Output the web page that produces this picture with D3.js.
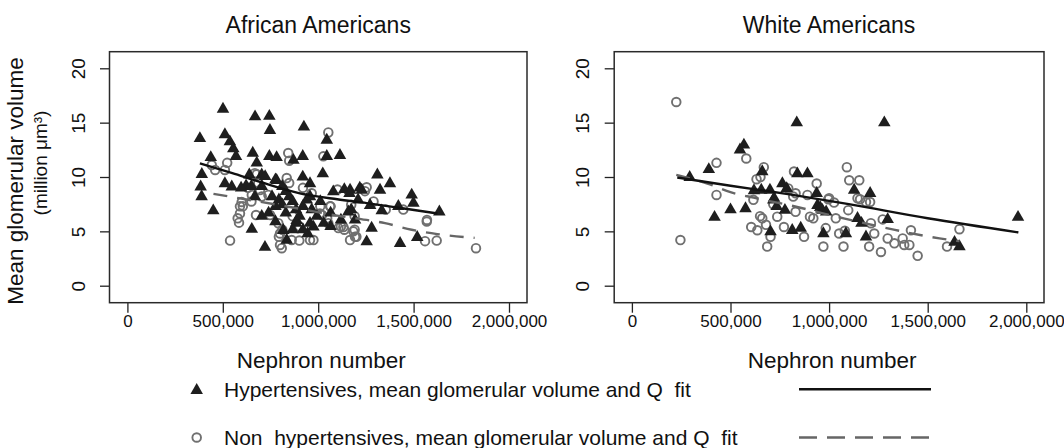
<!DOCTYPE html>
<html><head><meta charset="utf-8">
<script src="https://cdn.jsdelivr.net/npm/d3@7"></script>
<style>
body{margin:0;background:#fff;}
svg{display:block;font-family:"Liberation Sans",Arial,Helvetica,sans-serif;}
</style></head>
<body><svg id="c" width="1064" height="448"></svg>
<script>
// ---------- DATA (x = nephron number in thousands, y = mean glomerular volume, million µm³) ----------
const panelTitles = ["African Americans", "White Americans"];
const xTickValues = [0, 500, 1000, 1500, 2000];
const yTickValues = [0, 5, 10, 15, 20];
const xAxisTitle = "Nephron number";
const yAxisTitle1 = "Mean glomerular volume";
const yAxisTitle2 = "(million μm³)";
const legendLabels = ["Hypertensives, mean glomerular volume and Q  fit",
                      "Non  hypertensives, mean glomerular volume and Q  fit"];

const aaHyper = [
 [501,16.25],[669,15.55],[744,15.6],[747,14.3],[925,14.6],
 [380,13.55],[511,13.9],[537,13.25],[555,12.6],[569,11.9],[657,12.2],[678,11.3],[744,11.9],[782,11.8],[870,11.55],[919,11.9],[437,11.8],
 [1045,13.4],[1045,11.9],[1114,12.0],[1024,10.3],[1310,10.2],[1376,9.4],[957,9.4],[919,10.0],
 [390,10.25],[639,10.2],[704,10.2],[782,9.7],
 [384,9.1],[389,8.2],[511,9.4],[547,9.1],[450,6.9],[652,5.2],[721,3.55],[622,9.2],[817,5.1],[835,4.2],[887,6.0],[945,4.8],
 [1167,8.8],[1228,8.8],[1324,8.8],[1490,8.35],[1499,7.6],[1420,7.3],[1333,6.9],[1272,7.4],[1635,6.8],[1158,6.8],[1193,6.05],
 [1280,5.3],[1254,4.05],[1429,3.9],[1519,4.45],[975,5.4],[940,7.9],[1079,8.65],
 [776,9.75],[812,9.14],[830,8.68],[848,8.2],[794,7.9],[812,7.45],[866,7.75],[884,7.0],[830,6.7],[902,6.4],[920,7.3],[957,8.2],
 [966,7.0],[993,6.4],[957,5.75],[884,5.75],[866,5.15],[920,5.15],[1029,5.75],[1065,5.45],[1011,7.75],[1065,6.7],
 [1137,8.85],[1164,8.5],[1218,9.0],[1209,7.9],[1173,7.0],[1119,6.05],[758,8.2],[776,7.3],[740,6.7],[704,9.14],[722,10.05],
 [650,9.14],[596,9.0],[668,8.2],[704,6.4],[776,5.9]
];
const aaNonHyper = [
 [843,12.2],[442,11.1],[511,10.65],[678,10.25],[835,9.9],[1053,14.1],[1027,11.9],[848,11.5],
 [599,7.7],[590,7.3],[590,6.65],[585,5.8],[674,6.5],[538,4.15],[652,8.35],[695,8.8],[739,8.35],[748,6.5],[791,5.75],
 [800,4.8],[800,3.75],[809,3.45],[861,4.2],[901,4.15],
 [1254,9.05],[1446,7.0],[1569,5.9],[1560,4.1],[1621,4.15],[1827,3.45],[1062,7.3],[1106,5.3],[1132,5.4],[1167,4.2],
 [1184,5.0],[1193,4.5],[1009,6.65],[1053,5.75],[975,4.2],
 [848,9.45],[920,9.0],[966,8.5],[1011,7.3],[1020,6.5],[1047,6.2],[1101,8.85],[1065,7.3],[1173,7.45],[1245,8.7],[1191,6.4],
 [1119,5.45],[1137,5.15],[1191,5.15],[1200,4.5],[866,6.4],[902,5.45],[812,5.15],[794,4.5],[632,9.0],[704,8.2],[650,7.75],
 [605,7.3],[578,6.2],[460,10.65],[523,11.3],[668,10.35],[686,9.45],[1354,7.0],[1570,6.05],[1290,7.75],[957,4.2]
];
const waHyper = [
 [836,15.0],[1280,15.0],[568,12.95],[548,12.5],[390,10.7],[293,9.97],[419,6.3],[500,7.0],[576,7.1],[619,8.75],[661,10.5],
 [656,8.8],[700,8.8],[721,8.05],[703,4.97],[763,9.4],[785,8.95],[717,7.9],[734,7.3],[776,6.95],[839,10.3],[890,10.3],
 [813,5.1],[856,5.3],[937,8.5],[941,7.4],[966,6.95],[971,4.8],[1085,4.8],[1127,8.8],[1208,8.5],[1144,6.2],[1164,5.75],
 [1187,4.5],[1297,6.1],[1636,4.0],[1661,3.6],[1958,6.3],[955,7.2],[985,6.8]
];
const waNonHyper = [
 [225,16.9],[246,4.2],[429,11.3],[429,8.35],[580,11.7],[605,5.4],[636,5.1],[661,6.2],[632,9.8],[652,10.0],[669,10.9],
 [686,3.6],[703,4.5],[737,6.35],[771,5.4],[822,10.5],[830,8.5],[830,6.8],[873,4.5],[890,8.35],[903,6.35],[937,9.4],
 [920,6.2],[971,3.6],[983,5.3],[1000,8.05],[1025,7.65],[1034,6.2],[1051,4.8],[1073,3.6],[1090,10.9],[1102,9.7],[1153,9.7],
 [1144,8.05],[1187,7.7],[1208,7.7],[1212,5.75],[1229,4.8],[1203,3.6],[1263,3.1],[1297,4.35],[1331,3.9],[1373,4.35],
 [1381,3.75],[1407,3.75],[1415,5.1],[1449,2.75],[1598,3.6],[1661,5.2],
 [616,7.9],[717,7.5],[793,8.95],[818,8.2],[996,7.95],[1097,6.95],[1272,6.1],[1080,5.05],[1157,7.95],[650,6.4],[680,5.6]
];
// fitted curves
const aaHyperFit = [[380,11.25],[550,10.35],[695,9.55],[904,8.5],[1100,7.95],[1254,7.6],[1450,7.1],[1625,6.65]];
const aaNonHyperFit = [[451,8.45],[800,7.4],[1100,6.45],[1350,5.75],[1490,5.15],[1624,4.75],[1820,4.4]];
const waHyperFit = [[230,9.95],[500,9.2],[800,8.4],[1100,7.5],[1500,6.2],[1960,4.9]];
const waNonHyperFit = [[225,10.2],[383,9.4],[500,8.6],[617,8.1],[800,7.4],[1050,6.3],[1316,5.2],[1560,4.35],[1661,4.1]];

// ---------- LAYOUT ----------
const svg = d3.select("#c");
const boxTop = 51.7, boxBottom = 302.7;
const panels = [
  {title: panelTitles[0], box:[109.5, 527], xr:[127.4, 509], hyper: aaHyper, non: aaNonHyper, hFit: aaHyperFit, nFit: aaNonHyperFit},
  {title: panelTitles[1], box:[614.2, 1044], xr:[631.9, 1026.3], hyper: waHyper, non: waNonHyper, hFit: waHyperFit, nFit: waNonHyperFit}
];
const y = d3.scaleLinear().domain([0, 20]).range([285.7, 68.3]);
const triColor = "#1e1e1e", circColor = "#707070";
const triSym = d3.symbol().type(d3.symbolTriangle).size(68);
const fmt = v => d3.format(",")(v * 1000);

panels.forEach(p => {
  const x = d3.scaleLinear().domain([0, 2000]).range(p.xr);
  const g = svg.append("g");
  g.append("text").attr("x", (p.box[0] + p.box[1]) / 2).attr("y", 33.3)
    .attr("text-anchor", "middle").attr("font-size", 23).attr("fill", "#111").text(p.title);
  const xa = g.append("g").attr("transform", `translate(0,${boxBottom})`)
    .call(d3.axisBottom(x).tickValues(xTickValues).tickSize(10).tickFormat(fmt));
  xa.select(".domain").remove();
  xa.selectAll("line").attr("stroke", "#222").attr("stroke-width", 1.3);
  xa.selectAll("text").attr("y", 24.3).attr("dy", 0).attr("font-size", 17)
    .attr("font-family", "Liberation Sans, Arial, sans-serif").attr("fill", "#111");
  const ya = g.append("g").attr("transform", `translate(${p.box[0]},0)`)
    .call(d3.axisLeft(y).tickValues(yTickValues).tickSize(9.5));
  ya.select(".domain").remove();
  ya.selectAll("line").attr("stroke", "#222").attr("stroke-width", 1.3);
  ya.selectAll("text").attr("x", 0).attr("dy", 0).attr("text-anchor", "middle")
    .attr("font-size", 19).attr("font-family", "Liberation Sans, Arial, sans-serif").attr("fill", "#111")
    .attr("transform", "translate(-25,0) rotate(-90)");
  g.append("rect").attr("x", p.box[0]).attr("y", boxTop)
    .attr("width", p.box[1] - p.box[0]).attr("height", boxBottom - boxTop)
    .attr("fill", "none").attr("stroke", "#2a2a2a").attr("stroke-width", 1.5);
  g.append("text").attr("x", (p.box[0] + p.box[1]) / 2 + 3).attr("y", 368)
    .attr("text-anchor", "middle").attr("font-size", 22.5).attr("fill", "#111").text(xAxisTitle);
  g.append("g").selectAll("circle").data(p.non).join("circle")
    .attr("cx", d => x(d[0])).attr("cy", d => y(d[1])).attr("r", 4.3)
    .attr("fill", "none").attr("stroke", circColor).attr("stroke-width", 1.9);
  g.append("g").selectAll("path").data(p.hyper).join("path")
    .attr("d", triSym).attr("transform", d => `translate(${x(d[0])},${y(d[1])})`)
    .attr("fill", triColor);
  const line = d3.line().x(d => x(d[0])).y(d => y(d[1])).curve(d3.curveMonotoneX);
  g.append("path").attr("d", line(p.nFit)).attr("fill", "none").attr("stroke", "#666")
    .attr("stroke-width", 2.4).attr("stroke-dasharray", "14,10");
  g.append("path").attr("d", line(p.hFit)).attr("fill", "none").attr("stroke", "#111")
    .attr("stroke-width", 2.4);
});

svg.append("text").attr("transform", "translate(23,181) rotate(-90)")
  .attr("text-anchor", "middle").attr("font-size", 22.5).attr("fill", "#111").text(yAxisTitle1);
svg.append("text").attr("transform", "translate(46.5,163) rotate(-90)")
  .attr("text-anchor", "middle").attr("font-size", 19).attr("fill", "#111").text(yAxisTitle2);

const leg = svg.append("g");
const rows = [389.3, 437.5];
leg.append("path").attr("d", triSym).attr("transform", `translate(196.7,${rows[0] + 1})`).attr("fill", triColor);
leg.append("circle").attr("cx", 196.7).attr("cy", rows[1]).attr("r", 4.3)
  .attr("fill", "none").attr("stroke", circColor).attr("stroke-width", 1.9);
legendLabels.forEach((t, i) => {
  leg.append("text").attr("x", 224).attr("y", rows[i] + 7.2).attr("font-size", 21)
    .attr("fill", "#111").style("white-space", "pre").text(t);
});
leg.append("line").attr("x1", 799).attr("x2", 931).attr("y1", rows[0]).attr("y2", rows[0])
  .attr("stroke", "#111").attr("stroke-width", 2.6);
leg.append("line").attr("x1", 799).attr("x2", 931).attr("y1", rows[1]).attr("y2", rows[1])
  .attr("stroke", "#666").attr("stroke-width", 2.6).attr("stroke-dasharray", "18,10");
</script></body></html>
